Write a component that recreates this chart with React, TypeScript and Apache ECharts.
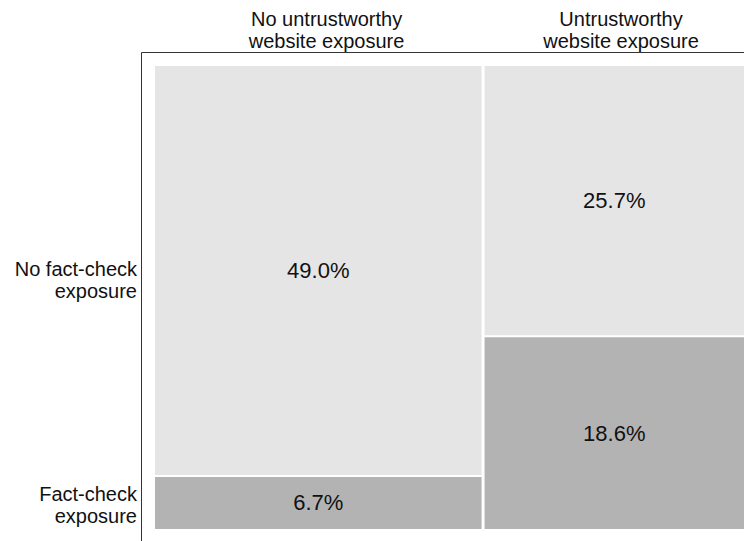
import React, { useEffect, useRef } from "react";
import * as echarts from "echarts";

const colLabels = ["No untrustworthy\nwebsite exposure", "Untrustworthy\nwebsite exposure"];
const rowLabels = ["No fact-check\nexposure", "Fact-check\nexposure"];
const noFactCheck = [49.0, 25.7];
const factCheck = [6.7, 18.6];

const FONT = "'Liberation Sans', Arial, Helvetica, sans-serif";

export default function App() {
  const ref = useRef<HTMLDivElement>(null);
  useEffect(() => {
    if (!ref.current) return;
    const chart = echarts.init(ref.current, undefined, { renderer: "svg" });
    const rows = [noFactCheck, factCheck];
    const colTotals = noFactCheck.map((v, i) => v + factCheck[i]);
    const grand = colTotals.reduce((a, b) => a + b, 0);
    const data: number[][] = [];
    let xc = 0;
    colTotals.forEach((tot, c) => {
      const x0 = (xc / grand) * 100;
      const x1 = ((xc + tot) / grand) * 100;
      let yc = 0;
      rows.forEach((rv, r) => {
        const y0 = yc / tot;
        const y1 = (yc + rv[c]) / tot;
        data.push([x0, x1, y0, y1, rv[c], c, r]);
        yc += rv[c];
      });
      xc += tot;
    });
    const nCols = colTotals.length;
    const nRows = rows.length;
    const option: any = {
      animation: false,
      backgroundColor: "#ffffff",
      grid: { left: 155, right: 0, top: 66, bottom: 9 },
      xAxis: { type: "value", min: 0, max: 100, show: false },
      yAxis: { type: "value", min: 0, max: 1, inverse: true, show: false },
      series: [
        {
          type: "custom",
          data,
          renderItem: (params: any, api: any) => {
            const x0 = api.value(0), x1 = api.value(1), y0 = api.value(2), y1 = api.value(3);
            const val = api.value(4), c = api.value(5), r = api.value(6);
            const p0 = api.coord([x0, y0]);
            const p1 = api.coord([x1, y1]);
            const left = p0[0] + (c > 0 ? 1.5 : 0);
            const right = p1[0] - (c < nCols - 1 ? 1.5 : 0);
            const top = p0[1] + (r > 0 ? 1 : 0);
            const bottom = p1[1] - (r < nRows - 1 ? 1 : 3);
            return {
              type: "group",
              children: [
                {
                  type: "rect",
                  shape: { x: left, y: top, width: right - left, height: bottom - top },
                  style: { fill: r === 0 ? "#e5e5e5" : "#b3b3b3" },
                },
                {
                  type: "text",
                  x: (left + right) / 2,
                  y: (top + bottom) / 2,
                  style: {
                    text: val.toFixed(1) + "%",
                    fill: "#111111",
                    font: `22px ${FONT}`,
                    align: "center",
                    verticalAlign: "middle",
                  },
                },
              ],
            };
          },
        },
      ],
    };
    chart.setOption(option);
    const graphics: any[] = [];
    let acc = 0;
    colTotals.forEach((tot, c) => {
      const mid = ((acc + tot / 2) / grand) * 100;
      const px = chart.convertToPixel({ gridIndex: 0 }, [mid, 0]);
      graphics.push({
        type: "text",
        x: px[0] + 7.5,
        y: 30,
        style: {
          text: colLabels[c],
          font: `20px ${FONT}`,
          fill: "#111111",
          align: "center",
          verticalAlign: "middle",
          lineHeight: 22,
        },
      });
      acc += tot;
    });
    const rowY = [280, 505];
    rowLabels.forEach((lab, r) => {
      graphics.push({
        type: "text",
        x: 137,
        y: rowY[r],
        style: {
          text: lab,
          font: `20px ${FONT}`,
          fill: "#111111",
          align: "right",
          verticalAlign: "middle",
          lineHeight: 22,
        },
      });
    });
    graphics.push({
      type: "polyline",
      shape: { points: [[141.5, 541], [141.5, 52.5], [744, 52.5]] },
      style: { stroke: "#333333", lineWidth: 1, fill: null },
    });
    chart.setOption({ graphic: graphics });
    return () => chart.dispose();
  }, []);
  return (
    <div
      ref={ref}
      style={{ position: "absolute", left: 0, top: 0, width: 744, height: 541 }}
    />
  );
}
